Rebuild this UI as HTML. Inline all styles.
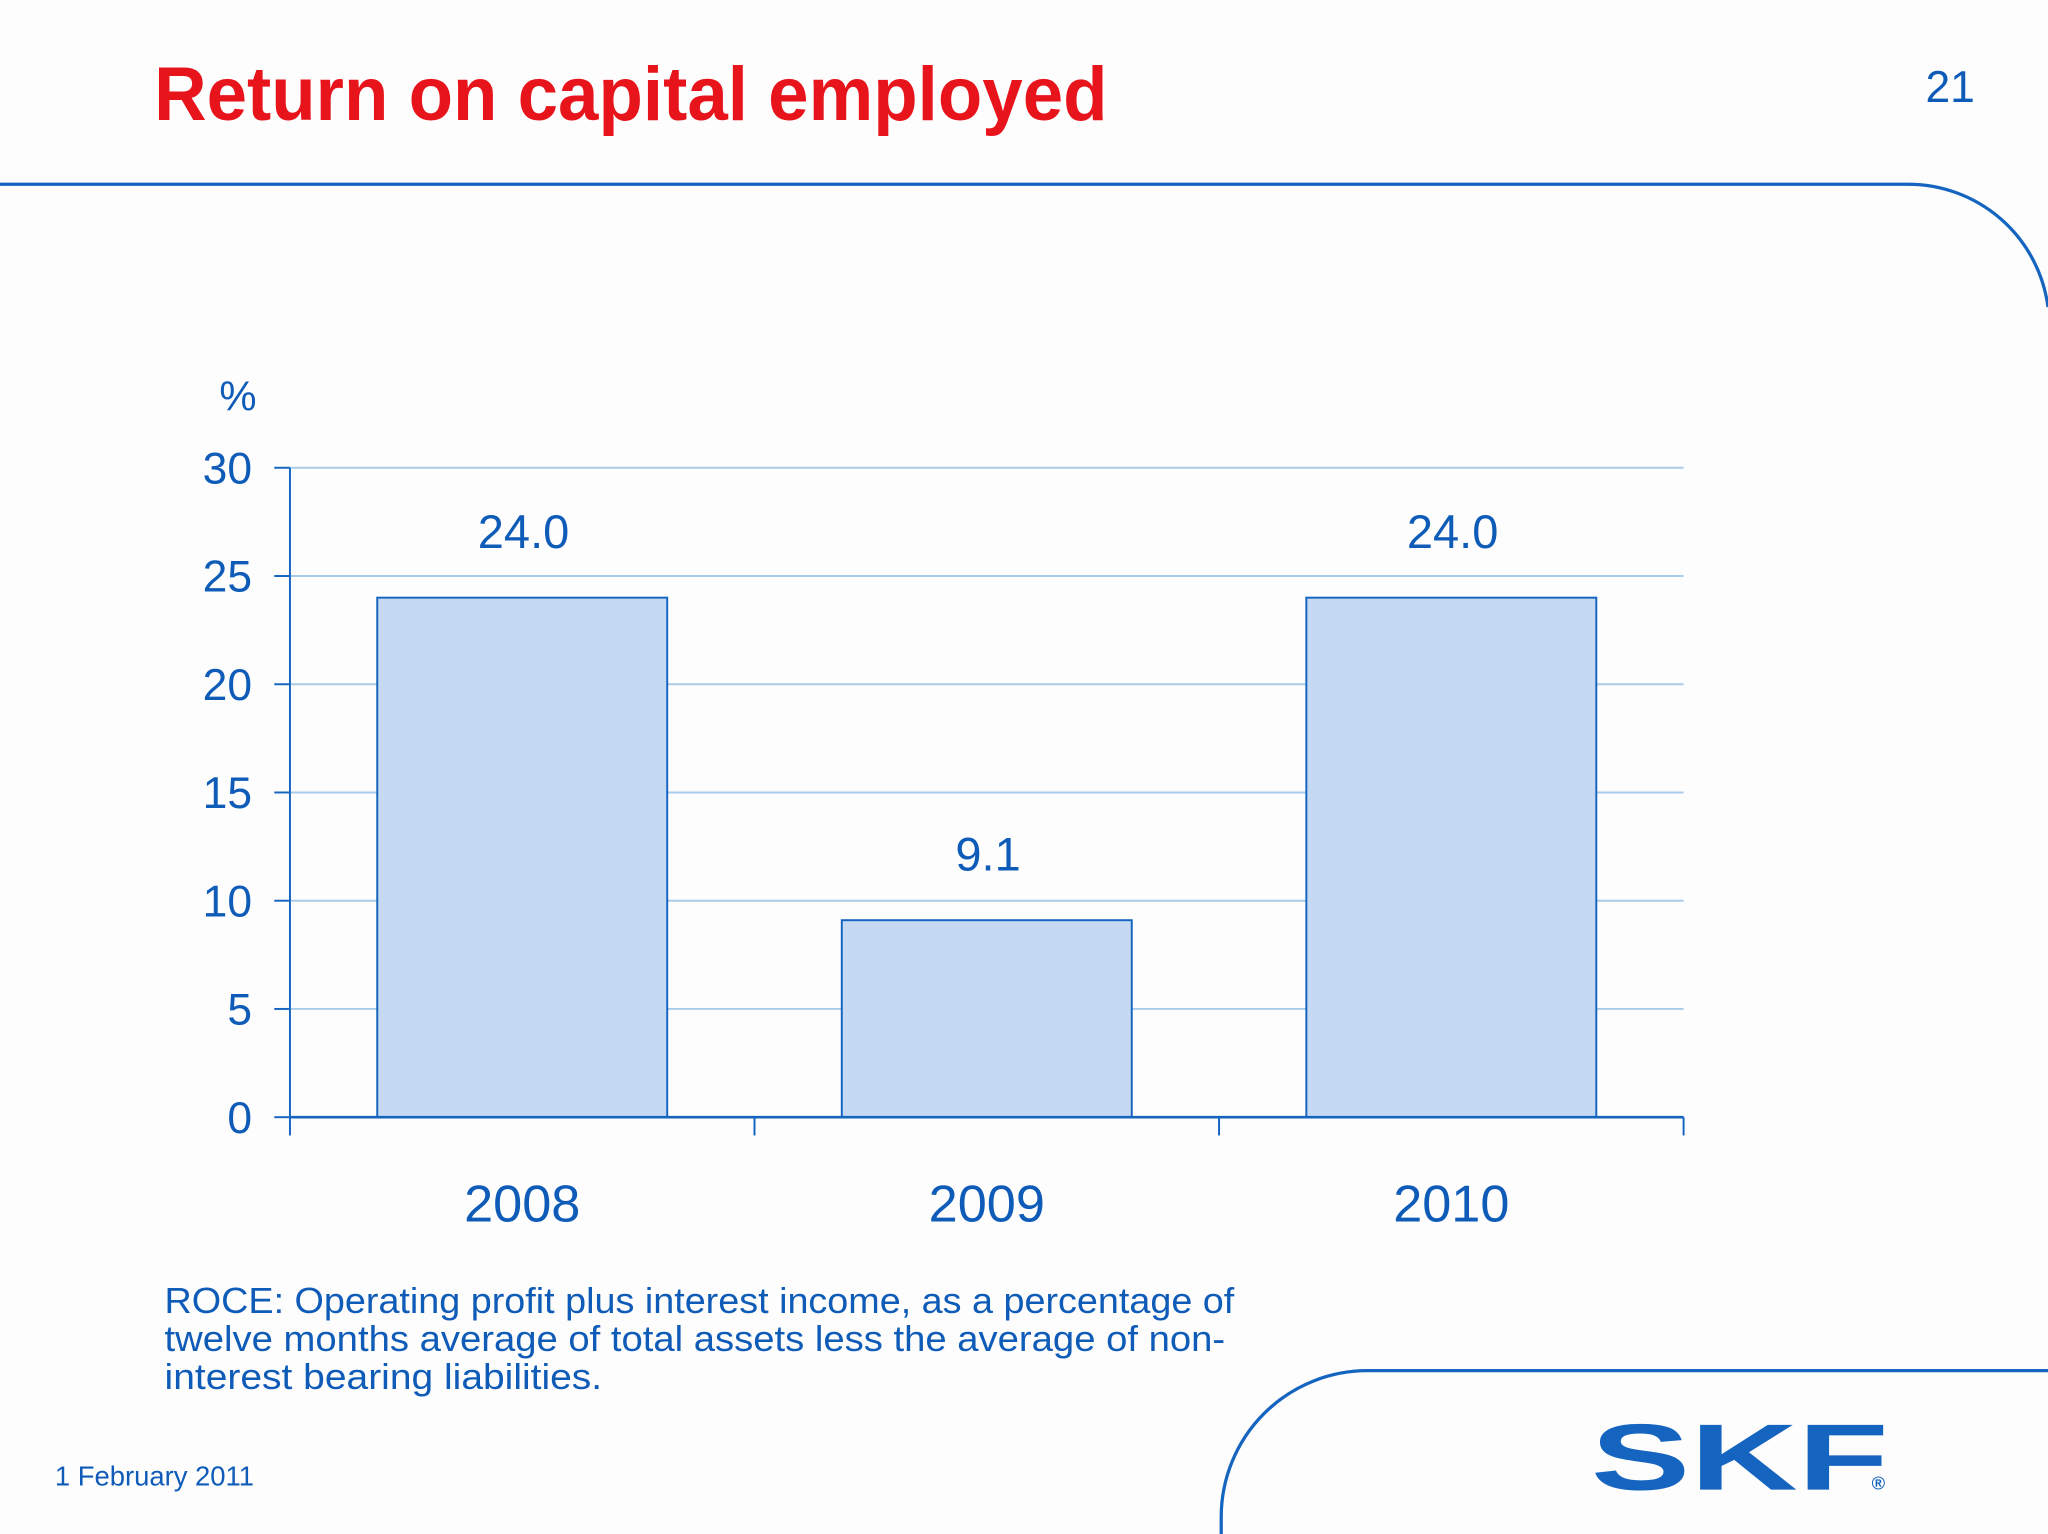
<!DOCTYPE html>
<html><head><meta charset="utf-8"><style>
html,body{margin:0;padding:0;background:#fdfdfd;}
svg{display:block;font-family:"Liberation Sans",sans-serif;}
</style></head><body>
<svg width="2048" height="1534" viewBox="0 0 1568 1174" preserveAspectRatio="none">
<rect width="1568" height="1174" fill="#fdfdfd"/>
<text x="118" y="92" font-size="58" font-weight="bold" fill="#e8141b" textLength="730" lengthAdjust="spacingAndGlyphs">Return on capital employed</text>
<text x="1512" y="78" font-size="34" fill="#0f5bb8" text-anchor="end">21</text>
<path d="M0 141 H1460 A108 108 0 0 1 1568 235" fill="none" stroke="#1565c0" stroke-width="2.5"/>
<path d="M935 1174 V1160 A112 112 0 0 1 1047 1049 H1568" fill="none" stroke="#1565c0" stroke-width="2.5"/>
<g id="chart"></g>
<text font-size="28" fill="#0f5bb8">
<tspan x="126" y="1005" textLength="819" lengthAdjust="spacingAndGlyphs">ROCE: Operating profit plus interest income, as a percentage of</tspan>
<tspan x="126" y="1034" textLength="812" lengthAdjust="spacingAndGlyphs">twelve months average of total assets less the average of non-</tspan>
<tspan x="126" y="1063" textLength="335" lengthAdjust="spacingAndGlyphs">interest bearing liabilities.</tspan></text>
<text x="42" y="1137" font-size="21" fill="#0f5bb8">1 February 2011</text>
<text x="1218" y="1140" font-size="72" font-weight="900" fill="#1565c0" textLength="228" lengthAdjust="spacingAndGlyphs">SKF</text>
<text x="1433" y="1140" font-size="14" font-weight="bold" fill="#1565c0">®</text>
</svg>
<script>
const categories = ["2008","2009","2010"];
const values = [24.0, 9.1, 24.0];
const valueLabels = ["24.0","9.1","24.0"];
const yTicks = [0,5,10,15,20,25,30];
const NS="http://www.w3.org/2000/svg";
const g=document.getElementById('chart');
const x0=222,x1=1289,yb=855,yt=358,ymax=30;
const y=v=>yb-(v/ymax)*(yb-yt);
const bw=(x1-x0)/categories.length;
function mk(t,a,txt){const e=document.createElementNS(NS,t);for(const k in a)e.setAttribute(k,a[k]);if(txt!==undefined)e.textContent=txt;g.appendChild(e);return e;}
yTicks.forEach(t=>{
  if(t>0){const l=mk('line',{x1:x0,x2:x1,y1:y(t),y2:y(t),stroke:'#a9cbea','stroke-width':1.5});
  
  }
  const tk=mk('line',{x1:x0-12,x2:x0,y1:y(t),y2:y(t),stroke:'#1565c0','stroke-width':1.5});
  
  
  const lb=mk('text',{x:193,y:y(t)+12,'font-size':34,fill:'#0f5bb8','text-anchor':'end'},String(t));
  
  
});
const pc=mk('text',{x:168,y:314,'font-size':32,fill:'#0f5bb8'},'%');


categories.forEach((c,i)=>{
  const cx=x0+bw*(i+0.5), w=222;
  const r=mk('rect',{x:cx-w/2,y:y(values[i]),width:w,height:yb-y(values[i]),fill:'#c5daf2',stroke:'#1565c0','stroke-width':1.5});
  
  
  const v=mk('text',{x:cx+1,y:y(values[i])-38,'font-size':36,fill:'#0f5bb8','text-anchor':'middle'},valueLabels[i]);
  
  
  const xl=mk('text',{x:cx,y:935,'font-size':40,fill:'#0f5bb8','text-anchor':'middle'},c);
  
  
});
for(let i=0;i<=categories.length;i++){
  const tx=x0+bw*i;
  const t=mk('line',{x1:tx,x2:tx,y1:yb,y2:yb+14,stroke:'#1565c0','stroke-width':1.5});
  
  
}
const ya=mk('line',{x1:x0,x2:x0,y1:yt,y2:yb,stroke:'#1565c0','stroke-width':1.5});


const xa=mk('line',{x1:x0,x2:x1,y1:yb,y2:yb,stroke:'#1565c0','stroke-width':2});


</script>
</body></html>
